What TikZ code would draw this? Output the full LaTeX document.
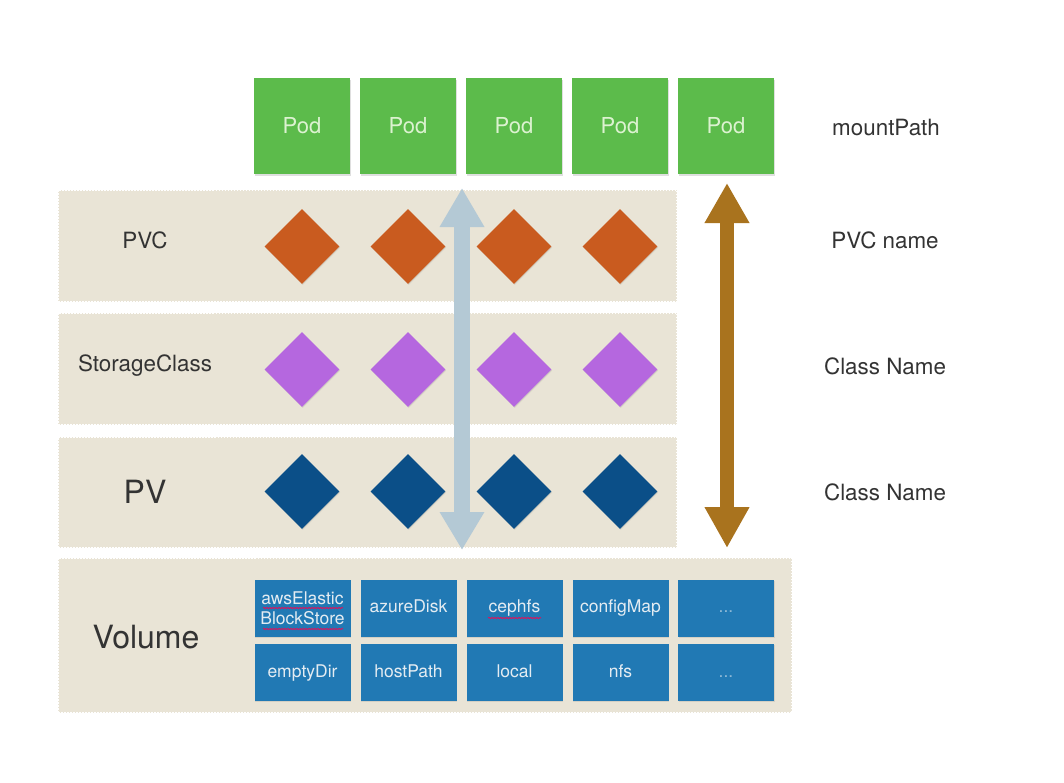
\documentclass[tikz,border=0pt]{standalone}
\usepackage{fontspec}
\setmainfont{TeX Gyre Heros}
\usetikzlibrary{shapes.geometric,arrows.meta,shadows,decorations.pathmorphing}
\definecolor{podgreen}{HTML}{5CBB4B}
\definecolor{podtext}{HTML}{DCF2D0}
\definecolor{bandfill}{HTML}{E9E4D6}
\definecolor{pvcorange}{HTML}{C95B1F}
\definecolor{scpurple}{HTML}{B567DF}
\definecolor{pvblue}{HTML}{0B4F88}
\definecolor{volblue}{HTML}{2179B4}
\definecolor{voltext}{HTML}{E4ECF2}
\definecolor{lightarrow}{HTML}{B4C9D5}
\definecolor{brownarrow}{HTML}{A9731E}
\definecolor{labeltext}{HTML}{333333}
\tikzset{
  pod/.style={fill=podgreen, text=podtext, minimum width=96pt, minimum height=96pt, inner sep=0pt,
    font=\fontsize{22}{26}\selectfont, drop shadow={opacity=0.25, shadow xshift=1pt, shadow yshift=-1.5pt}},
  band/.style={fill=bandfill, draw=white, line width=1.2pt, dash pattern=on 1.5pt off 1.5pt, inner sep=0pt},
  dia/.style={diamond, minimum width=75pt, minimum height=75pt, inner sep=0pt,
    drop shadow={opacity=0.2, shadow xshift=0.8pt, shadow yshift=-1pt}},
  vol/.style={fill=volblue, text=voltext, minimum width=96pt, minimum height=57pt, inner sep=0pt, align=center,
    font=\fontsize{17.5}{20}\selectfont, drop shadow={opacity=0.2, shadow xshift=0.8pt, shadow yshift=-1pt}},
  volone/.style={vol, text height=13pt, text depth=4pt},
  lbl/.style={text=labeltext, font=\fontsize{22.4}{26}\selectfont},
  biglbl/.style={text=labeltext, font=\fontsize{32}{38}\selectfont},
  spell/.style={draw=red!70!magenta, line width=0.7pt, decorate, decoration={snake, amplitude=0.6pt, segment length=3pt}},
}
\begin{document}
\begin{tikzpicture}[x=1pt,y=-1pt]
\useasboundingbox (0,0) rectangle (1064,782);
\fill[white] (0,0) rectangle (1064,782);

% bands
\node[band, minimum width=619pt, minimum height=112pt] (pvcband) at (367.5,246) {};
\node[band, minimum width=619pt, minimum height=112pt] (scband) at (367.5,369) {};
\node[band, minimum width=619pt, minimum height=111pt] (pvband) at (367.5,492.5) {};
\node[band, minimum width=734pt, minimum height=155pt] (volband) at (425,635.5) {};

% pods
\node[pod] (pod1) at (302,126) {Pod};
\node[pod] (pod2) at (408,126) {Pod};
\node[pod] (pod3) at (514,126) {Pod};
\node[pod] (pod4) at (620,126) {Pod};
\node[pod] (pod5) at (726,126) {Pod};

% diamonds
\foreach \i/\x in {1/302,2/408,3/514,4/620}{
  \node[dia, fill=pvcorange] (pvc\i) at (\x,246.5) {};
  \node[dia, fill=scpurple] (sc\i) at (\x,369.5) {};
  \node[dia, fill=pvblue] (pv\i) at (\x,491.5) {};
}

% left labels
\node[lbl] (lpvc) at (145,240) {PVC};
\node[lbl] (lsc) at (145,366) {StorageClass};
\node[biglbl] (lpv) at (145,492) {PV};
\node[biglbl] (lvol) at (146,637) {Volume};

% right labels
\node[lbl] (rmount) at (886,127) {mountPath};
\node[lbl] (rpvc) at (885,240) {PVC name};
\node[lbl] (rsc) at (885,366) {Class Name};
\node[lbl] (rpv) at (885,492) {Class Name};

% volume boxes
\node[vol] (v1) at (302.5,608) {awsElastic\\BlockStore};
\node[volone] (v2) at (408.5,608) {azureDisk};
\node[volone] (v3) at (514.5,608) {cephfs};
\node[volone] (v4) at (620.5,608) {configMap};
\node[volone, text=voltext!55!volblue] (v5) at (726,608) {...};
\node[volone] (v6) at (302.5,672.5) {emptyDir};
\node[volone] (v7) at (408.5,672.5) {hostPath};
\node[volone] (v8) at (514.5,672.5) {local};
\node[volone] (v9) at (620.5,672.5) {nfs};
\node[volone, text=voltext!55!volblue] (v10) at (726,672.5) {...};

% spell-check marks
\draw[spell] (263,608) -- (343,608);
\draw[spell] (263,629) -- (343,629);
\draw[spell] (488,618) -- (541,618);

% arrows
\coordinate (latop) at (462,188);
\coordinate (labot) at (462,550);
\draw[lightarrow, line width=16pt, {Triangle[length=39pt,width=42pt]}-{Triangle[length=38pt,width=42pt]}] (latop) -- (labot);
\coordinate (batop) at (727,183);
\coordinate (babot) at (727,548);
\draw[brownarrow, line width=14pt, {Triangle[length=40pt,width=42pt]}-{Triangle[length=41pt,width=42pt]}] (batop) -- (babot);
\end{tikzpicture}
\end{document}
